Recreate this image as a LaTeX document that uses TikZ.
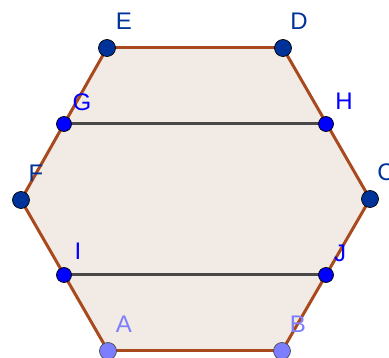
\documentclass[tikz,border=0pt]{standalone}
\usepackage{fontspec}
\setmainfont{Liberation Sans}
\begin{document}
\begin{tikzpicture}[x=1pt,y=-1pt,
  edge/.style={draw=hexbrown,line width=3pt},
  seg/.style={draw=seggray,line width=3pt},
  bigpt/.style={circle,fill=ptdark,draw=black,line width=0.7pt,minimum size=17pt,inner sep=0pt},
  midpt/.style={circle,fill=ptblue,draw=black,line width=0.7pt,minimum size=15pt,inner sep=0pt},
  lowpt/.style={circle,fill=ptlight,draw=black!70,line width=0.7pt,minimum size=17pt,inner sep=0pt},
  lbl/.style={font=\fontsize{24}{24}\selectfont,inner sep=0pt}
]
\definecolor{hexbrown}{RGB}{168,74,30}
\definecolor{hexfill}{RGB}{242,234,228}
\definecolor{seggray}{RGB}{72,72,72}
\definecolor{ptdark}{RGB}{0,51,153}
\definecolor{ptblue}{RGB}{0,0,255}
\definecolor{ptlight}{RGB}{125,125,255}
\useasboundingbox (0,0) rectangle (389,358);
\coordinate (A) at (108,351);
\coordinate (B) at (282,351);
\coordinate (C) at (370,199);
\coordinate (D) at (283,48);
\coordinate (E) at (107,48);
\coordinate (F) at (21,200);
\coordinate (G) at (64,124);
\coordinate (H) at (326,124);
\coordinate (I) at (64,275);
\coordinate (J) at (326,275);
\fill[hexfill] (A) -- (B) -- (C) -- (D) -- (E) -- (F) -- cycle;
\draw[edge] (A) -- (B);
\draw[edge] (B) -- (C);
\draw[edge] (C) -- (D);
\draw[edge] (D) -- (E);
\draw[edge] (E) -- (F);
\draw[edge] (F) -- (A);
\draw[seg] (G) -- (H);
\draw[seg] (I) -- (J);
\node[bigpt] (pC) at (C) {};
\node[bigpt] (pD) at (D) {};
\node[bigpt] (pE) at (E) {};
\node[bigpt] (pF) at (F) {};
\node[midpt] (pG) at (G) {};
\node[midpt] (pH) at (H) {};
\node[midpt] (pI) at (I) {};
\node[midpt] (pJ) at (J) {};
\node[lowpt] (pA) at (A) {};
\node[lowpt] (pB) at (B) {};
\node[lbl,text=ptdark] (lE) at (124,21) {E};
\node[lbl,text=ptdark] (lD) at (299,21) {D};
\node[lbl,text=ptdark] (lC) at (386,172) {C};
\node[lbl,text=ptdark] (lF) at (36,173) {F};
\node[lbl,text=ptblue] (lG) at (82,102) {G};
\node[lbl,text=ptblue] (lH) at (344,101) {H};
\node[lbl,text=ptblue] (lI) at (78,251) {I};
\node[lbl,text=ptblue] (lJ) at (340,253) {J};
\node[lbl,text=ptlight] (lA) at (124,324) {A};
\node[lbl,text=ptlight] (lB) at (298,324) {B};
\end{tikzpicture}
\end{document}
